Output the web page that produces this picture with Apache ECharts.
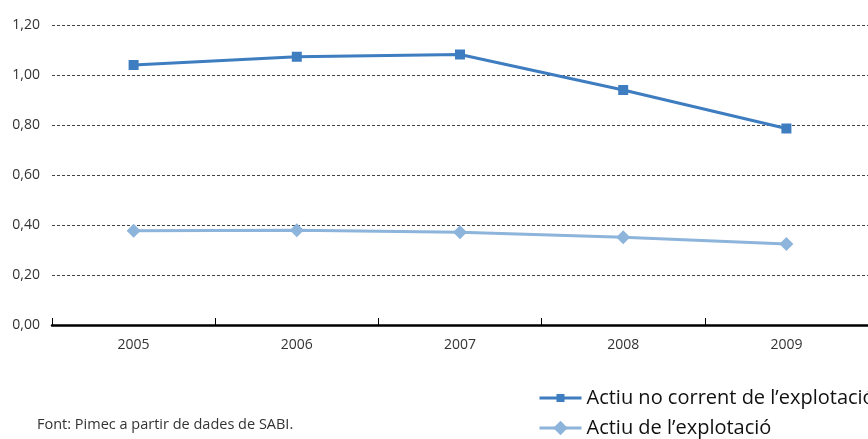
<!DOCTYPE html>
<html>
<head>
<meta charset="utf-8">
<script src="https://cdn.jsdelivr.net/npm/echarts@6/dist/echarts.min.js"></script>
<style>
html,body{margin:0;padding:0;background:#fff;}
#chart{width:868px;height:439px;}
</style>
</head>
<body>
<div id="chart"></div>
<script>
var years = ['2005', '2006', '2007', '2008', '2009'];
var actiuNoCorrent = [1.04, 1.073, 1.082, 0.94, 0.786];
var actiuExplotacio = [0.377, 0.379, 0.371, 0.351, 0.324];
var seriesNames = ['Actiu no corrent de l\u2019explotació', 'Actiu de l\u2019explotació'];
var sourceNote = 'Font: Pimec a partir de dades de SABI.';

var FONT = '"Open Sans", "Noto Sans", sans-serif';
var legendText = {fontSize: 20, color: '#111', fontFamily: FONT};
var chart = echarts.init(document.getElementById('chart'), null, {renderer: 'canvas'});
chart.setOption({
  animation: false,
  textStyle: {fontFamily: FONT},
  grid: {left: 52, right: 0, top: 25, bottom: 114, containLabel: false},
  xAxis: {
    type: 'category',
    data: years,
    boundaryGap: true,
    axisLine: {show: true, lineStyle: {color: '#000', width: 2.5}},
    axisTick: {show: true, inside: true, length: 7, lineStyle: {color: '#000', width: 1}},
    axisLabel: {color: '#333', fontSize: 14, margin: 13, fontFamily: FONT},
    splitLine: {show: false}
  },
  yAxis: {
    type: 'value',
    min: 0, max: 1.2, interval: 0.2,
    axisLine: {show: false},
    axisTick: {show: false},
    axisLabel: {
      color: '#333', fontSize: 14, margin: 12, fontFamily: FONT,
      formatter: function (v) { return v.toFixed(2).replace('.', ','); }
    },
    splitLine: {show: true, lineStyle: {color: '#444', width: 1, type: [3, 2]}}
  },
  legend: [{
    orient: 'horizontal', left: 538, top: 388, padding: 0,
    itemWidth: 42, itemHeight: 10,
    lineStyle: {width: 3},
    textStyle: legendText,
    data: [seriesNames[0]]
  }, {
    orient: 'horizontal', left: 538, top: 418, padding: 0,
    itemWidth: 42, itemHeight: 18,
    lineStyle: {width: 3},
    textStyle: legendText,
    data: [seriesNames[1]]
  }],
  graphic: [{
    type: 'text', left: 37, top: 417,
    style: {text: sourceNote, fontSize: 14.5, fill: '#333', fontFamily: FONT}
  }],
  series: [{
    name: seriesNames[0],
    type: 'line',
    data: actiuNoCorrent,
    symbol: 'rect', symbolSize: 10,
    lineStyle: {color: '#3e7dc0', width: 3},
    itemStyle: {color: '#3e7dc0'}
  }, {
    name: seriesNames[1],
    type: 'line',
    data: actiuExplotacio,
    symbol: 'diamond', symbolSize: 14,
    lineStyle: {color: '#8db4da', width: 3},
    itemStyle: {color: '#8db4da'}
  }]
});
</script>
</body>
</html>
